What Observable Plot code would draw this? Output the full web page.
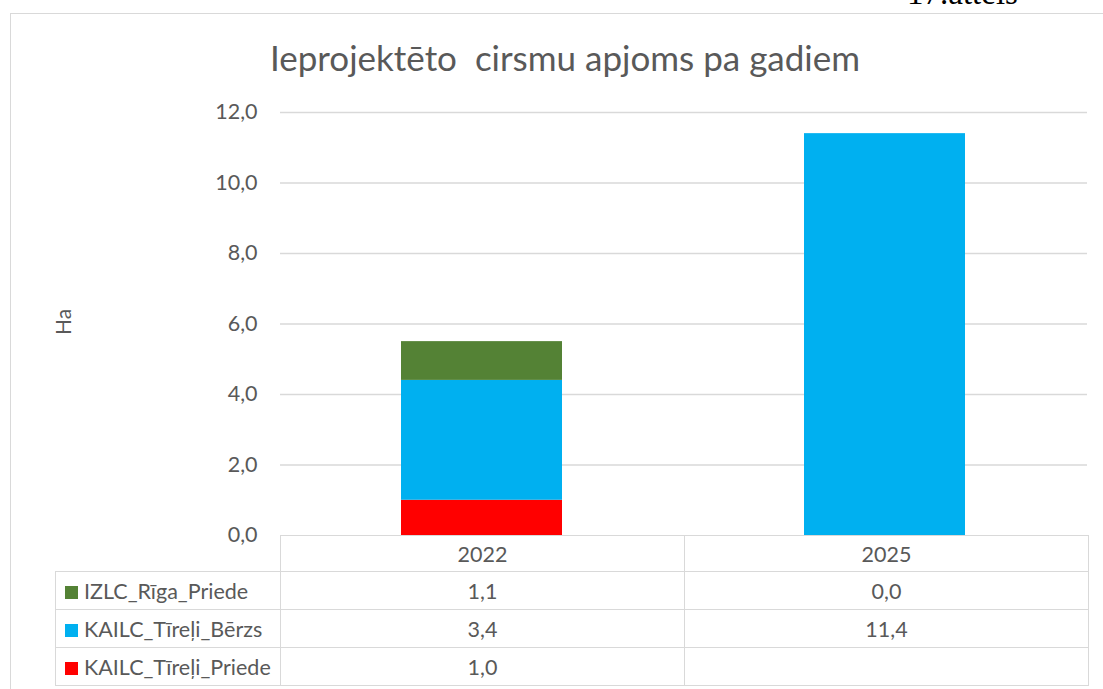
<!DOCTYPE html>
<html>
<head>
<meta charset="utf-8">
<script src="https://cdn.jsdelivr.net/npm/d3@7"></script>
<script src="https://cdn.jsdelivr.net/npm/@observablehq/plot@0.6"></script>
<style>
  html, body { margin: 0; padding: 0; background: #fff; overflow: hidden; }
  #wrap { position: relative; width: 1103px; height: 689px; overflow: hidden; font-family: Lato, "Open Sans", sans-serif; color: #595959; }
  #frame { position: absolute; left: 10px; top: 13px; width: 1120px; height: 720px; border: 1.5px solid #d9d9d9; box-sizing: border-box; }
  #fig { position: absolute; left: 907px; top: -25px; font-family: "Liberation Serif", serif; font-size: 33px; color: #000; white-space: pre; }
  #title { position: absolute; left: 0; width: 1130px; top: 35px; text-align: center; font-size: 35px; line-height: 44px; white-space: pre; color: #595959; }
  #ylab { position: absolute; left: 62px; top: 322px; transform: translate(-50%, -50%) rotate(-90deg); font-size: 21px; color: #595959; }
  #chart { position: absolute; left: 0; top: 0; }
  #tbl { position: absolute; left: 55px; top: 535px; border-collapse: collapse; table-layout: fixed; font-size: 21.5px; color: #595959; }
  #tbl td { border: 1.5px solid #d9d9d9; padding: 0; height: 37px; line-height: 34px; text-align: center; }
  #tbl tr.head td { height: 35px; }
  #tbl td.name { text-align: left; padding-left: 9px; white-space: nowrap; }
  #tbl td.blank { border: none; }
  .key { display: inline-block; width: 13px; height: 13px; margin-right: 6px; vertical-align: 0px; }
</style>
</head>
<body>
<div id="wrap">
  <div id="frame"></div>
  <div id="fig"></div>
  <div id="title"></div>
  <div id="ylab"></div>
  <div id="chart"></div>
  <table id="tbl"></table>
</div>
<script>
const figLabel = "17.attēls";
const titleText = "Ieprojektēto  cirsmu apjoms pa gadiem";
const yLabel = "Ha";
const years = ["2022", "2025"];
const seriesNames = ["IZLC_Rīga_Priede", "KAILC_Tīreļi_Bērzs", "KAILC_Tīreļi_Priede"];
const seriesColors = ["#548235", "#00b0f0", "#ff0000"];
const izlcRigaPriede = [1.1, 0.0];
const kailcTireliBerzs = [3.4, 11.4];
const kailcTireliPriede = [1.0, null];
const yTicks = [0, 2, 4, 6, 8, 10, 12];

const seriesValues = [izlcRigaPriede, kailcTireliBerzs, kailcTireliPriede];
const fmt = v => (v == null ? "" : v.toFixed(1).replace(".", ","));

document.getElementById("fig").textContent = figLabel;
document.getElementById("title").textContent = titleText;
document.getElementById("ylab").textContent = yLabel;

// stacked data, bottom to top: last series first
const data = [];
for (let s = seriesNames.length - 1; s >= 0; s--) {
  years.forEach((yr, i) => {
    data.push({ year: yr, series: seriesNames[s], value: seriesValues[s][i] });
  });
}

const chart = Plot.plot({
  width: 1103,
  height: 689,
  marginTop: 112,
  marginBottom: 154,
  marginLeft: 280,
  marginRight: 16,
  style: { fontFamily: "Lato, 'Open Sans', sans-serif", fontSize: "21px", color: "#595959", background: "transparent" },
  x: { domain: years, paddingInner: 0.6, paddingOuter: 0.3, axis: null },
  y: { domain: [0, 12], axis: null },
  color: { domain: seriesNames, range: seriesColors },
  marks: [
    Plot.ruleY(yTicks.filter(t => t > 0), { stroke: "#d9d9d9", strokeWidth: 1.5 }),
    Plot.axisY(yTicks, { tickSize: 0, tickPadding: 23, tickFormat: fmt, fontSize: 21.5, label: null }),
    Plot.barY(data.filter(d => d.value != null), { x: "year", y: "value", fill: "series", inset: 0 })
  ]
});
document.getElementById("chart").appendChild(chart);

// data table
const tbl = document.getElementById("tbl");
const colgroup = document.createElement("colgroup");
[225, 404, 404].forEach(w => { const c = document.createElement("col"); c.style.width = w + "px"; colgroup.appendChild(c); });
tbl.appendChild(colgroup);
const hdr = document.createElement("tr");
hdr.className = "head";
const blank = document.createElement("td"); blank.className = "blank"; hdr.appendChild(blank);
years.forEach(y => { const td = document.createElement("td"); td.textContent = y; hdr.appendChild(td); });
tbl.appendChild(hdr);
seriesNames.forEach((name, s) => {
  const tr = document.createElement("tr");
  const nameTd = document.createElement("td"); nameTd.className = "name";
  const key = document.createElement("span"); key.className = "key"; key.style.background = seriesColors[s];
  nameTd.appendChild(key); nameTd.appendChild(document.createTextNode(name));
  tr.appendChild(nameTd);
  years.forEach((y, i) => { const td = document.createElement("td"); td.textContent = fmt(seriesValues[s][i]); tr.appendChild(td); });
  tbl.appendChild(tr);
});
</script>
</body>
</html>
